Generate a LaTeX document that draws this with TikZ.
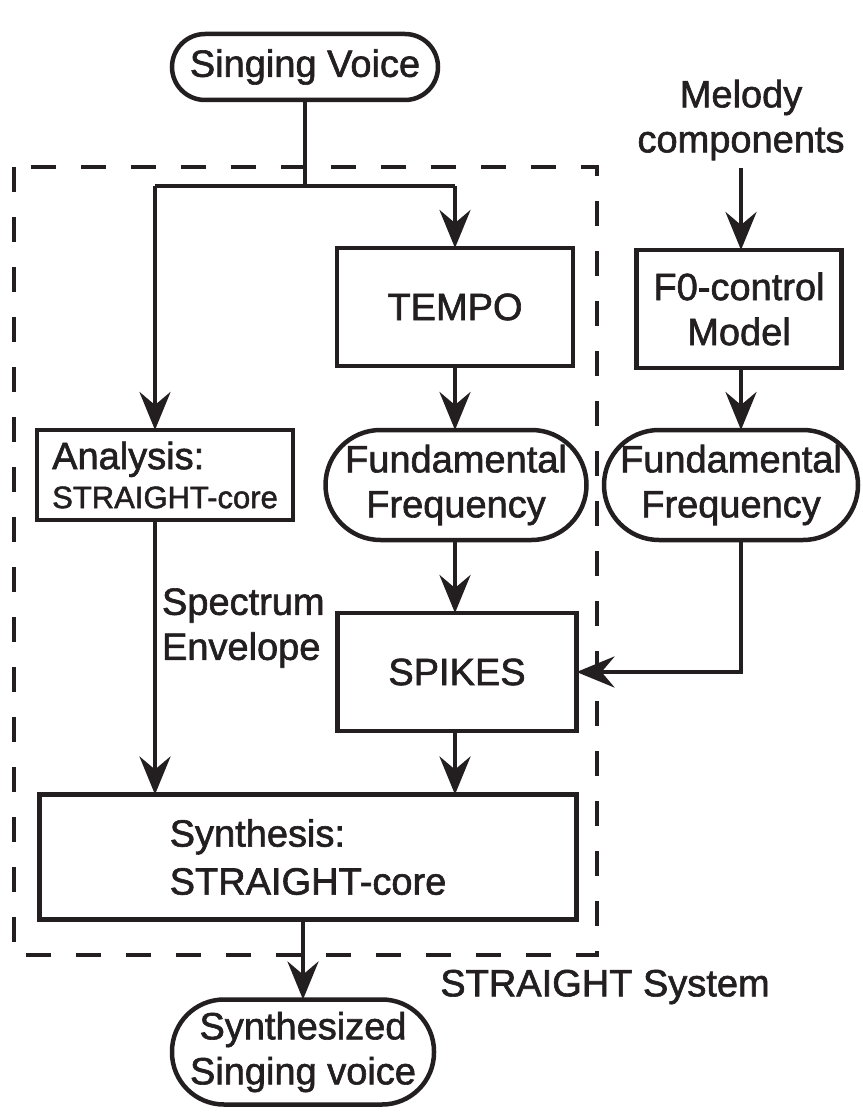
\documentclass[tikz,border=0pt]{standalone}
\usepackage{fontspec}
\setmainfont{Liberation Sans}[BoldFont={Liberation Sans},BoldFeatures={FakeBold=1.6}]
\usetikzlibrary{arrows.meta}
\definecolor{ink}{RGB}{35,31,32}
\begin{document}
\begin{tikzpicture}[x=1pt,y=-1pt,
  every node/.style={inner sep=0pt, outer sep=0pt, text=ink},
  box/.style={draw=ink, line width=4.5pt, rectangle, align=center, font=\fontsize{38}{45}\bfseries},
  stad/.style={box, rounded corners=#1},
  lbl/.style={font=\fontsize{38}{45}\bfseries, align=center},
  conn/.style={draw=ink, line width=4.5pt},
  arr/.style={conn, -{Stealth[length=38pt,width=31pt,inset=13pt]}},
  line join=miter]
\useasboundingbox (0,0) rectangle (862,1118);

% dashed system frame
\draw[draw=ink, line width=4.5pt, dash pattern=on 25pt off 25pt] (14,167) rectangle (597,955);

\node[stad=33pt, minimum width=266pt, minimum height=66pt] (sv) at (305,67) {Singing Voice};
\node[box, minimum width=236pt, minimum height=118pt] (tempo) at (455,307) {TEMPO};
\node[box, align=left, minimum width=256pt, minimum height=90pt] (ana) at (165,475)
  {Analysis:\\[-6pt]{\fontsize{31}{36}\bfseries STRAIGHT-core}};
\node[stad=55pt, minimum width=261pt, minimum height=110pt] (ff1) at (456,485) {Fundamental\\Frequency};
\node[box, minimum width=239pt, minimum height=118pt] (spikes) at (457,672) {SPIKES};
\node[box, align=left, minimum width=537pt, minimum height=125pt] (syn) at (308,857) {Synthesis:\\[3pt]STRAIGHT-core};
\node[stad=52pt, minimum width=262pt, minimum height=105pt] (out) at (303,1052) {Synthesized\\Singing voice};
\node[lbl] (mel) at (741,120) {Melody\\components};
\node[box, minimum width=205pt, minimum height=118pt] (f0) at (739,309) {F0-control\\Model};
\node[stad=55pt, minimum width=254pt, minimum height=110pt] (ff2) at (731,485) {Fundamental\\Frequency};
\node[lbl, align=left, anchor=west] (spec) at (162,628) {Spectrum\\Envelope};
\node[lbl] (sys) at (605,987) {STRAIGHT System};

\coordinate (jl) at (155,186);
\coordinate (jr) at (455,186);
\coordinate (jm) at (305,186);

\draw[conn] (sv.south) -- (jm);
\draw[conn] (jl) -- (jr);
\draw[arr] (jl) -- (jl |- ana.north);
\draw[arr] (jr) -- (jr |- tempo.north);
\draw[arr] (jl |- ana.south) -- (jl |- syn.north);
\draw[arr] (tempo.south) -- (tempo.south |- ff1.north);
\draw[arr] (tempo.south |- ff1.south) -- (tempo.south |- spikes.north);
\draw[arr] (tempo.south |- spikes.south) -- (tempo.south |- syn.north);
\draw[arr] (out.north |- syn.south) -- (out.north);
\draw[arr] (mel.south -| 741,0) ++(0,8) -- (741,0 |- f0.north);
\draw[arr] (741,0 |- f0.south) -- (741,0 |- ff2.north);
\draw[arr] (741,0 |- ff2.south) |- (spikes.east);
\end{tikzpicture}
\end{document}
